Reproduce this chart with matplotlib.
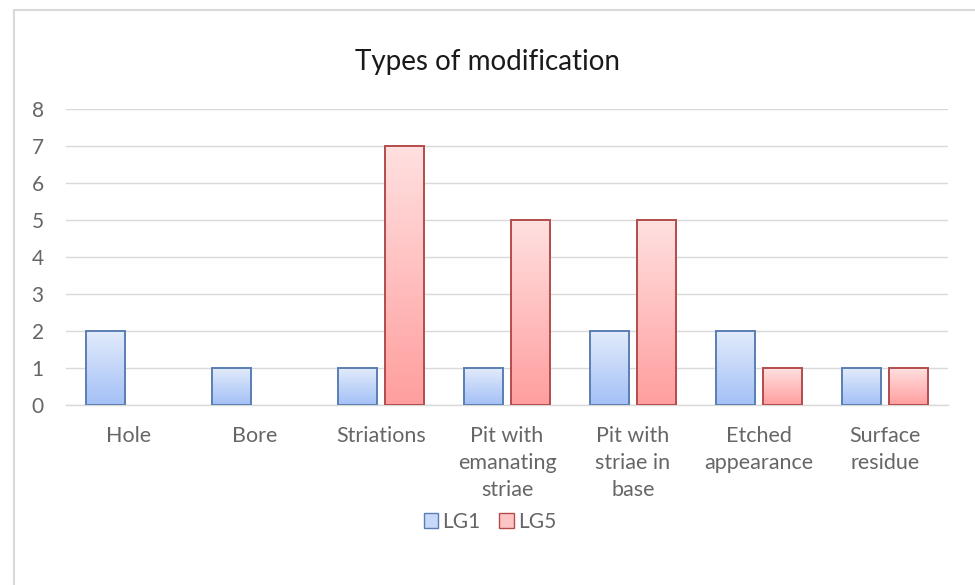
import matplotlib

matplotlib.use("Agg")
import matplotlib.pyplot as plt
import numpy as np
from matplotlib.colors import LinearSegmentedColormap
from matplotlib.lines import Line2D
from matplotlib.patches import Patch

plt.rcParams["font.family"] = ["Lato", "DejaVu Sans"]

categories = ["Hole", "Bore", "Striations", "Pit with\nemanating\nstriae",
              "Pit with\nstriae in\nbase", "Etched\nappearance", "Surface\nresidue"]
lg1 = [2, 1, 1, 1, 2, 2, 1]
lg5 = [0, 0, 7, 5, 5, 1, 1]
series_names = ["LG1", "LG5"]

# gradient top -> bottom, edge colour, legend fill
STYLES = {
    "LG1": ("#e2ebfb", "#a3c0f6", "#5a7fb3", "#c7d8f8"),
    "LG5": ("#ffe0e0", "#ff9e9e", "#b34c4c", "#ffc4c4"),
}
TXT = "#666666"

fig = plt.figure(figsize=(9.75, 5.85), dpi=100)
ax = fig.add_axes([66 / 975, 1 - 405 / 585, 882 / 975, 296 / 585])

x = np.arange(len(categories))
w = 0.31
off = 0.19
grad = np.linspace(0, 1, 256).reshape(-1, 1)
for vals, name, sgn in [(lg1, "LG1", -1), (lg5, "LG5", 1)]:
    top, bot, edge, _ = STYLES[name]
    cmap = LinearSegmentedColormap.from_list(name, [bot, top])
    bars = ax.bar(x + sgn * off, vals, w, facecolor="none", edgecolor=edge,
                  linewidth=1.4, zorder=3)
    for b in bars:
        if b.get_height() <= 0:
            b.set_visible(False)
            continue
        bx, bw, bh = b.get_x(), b.get_width(), b.get_height()
        ax.imshow(grad, cmap=cmap, origin="lower", aspect="auto",
                  extent=(bx, bx + bw, 0, bh), zorder=2)

ax.set_xlim(-0.5, len(categories) - 0.5)
ax.set_ylim(0, 8)
ax.set_yticks(range(9))
ax.set_xticks(x)
ax.set_xticklabels(categories, fontsize=15.5, color=TXT, linespacing=1.45)
ax.tick_params(axis="y", labelsize=15, labelcolor=TXT, length=0, pad=16)
ax.tick_params(axis="x", length=0, pad=15)
ax.grid(axis="y", color="#d9d9d9", linewidth=1)
ax.set_axisbelow(True)
for s in ["top", "right", "left"]:
    ax.spines[s].set_visible(False)
ax.spines["bottom"].set_color("#d9d9d9")
ax.spines["bottom"].set_linewidth(1)

fig.text(0.5, 1 - 62 / 585, "Types of modification", ha="center", va="center",
         fontsize=20, color="#1a1a1a")

handles = [Patch(facecolor=STYLES[n][3], edgecolor=STYLES[n][2], label=n)
           for n in series_names]
leg = fig.legend(handles=handles, loc="center", bbox_to_anchor=(490 / 975, 1 - 522 / 585),
                 ncol=2, frameon=False, fontsize=15, handlelength=0.7,
                 handleheight=0.7, handletextpad=0.2, columnspacing=0.9)
for t in leg.get_texts():
    t.set_color(TXT)

# chart border
fig.add_artist(Line2D([14 / 975, 14 / 975], [0, 1 - 9.5 / 585], color="#d9d9d9",
                      lw=1.5, transform=fig.transFigure))
fig.add_artist(Line2D([14 / 975, 1], [1 - 9.5 / 585, 1 - 9.5 / 585], color="#d9d9d9",
                      lw=1.5, transform=fig.transFigure))

fig.savefig("out.png", dpi=100)
